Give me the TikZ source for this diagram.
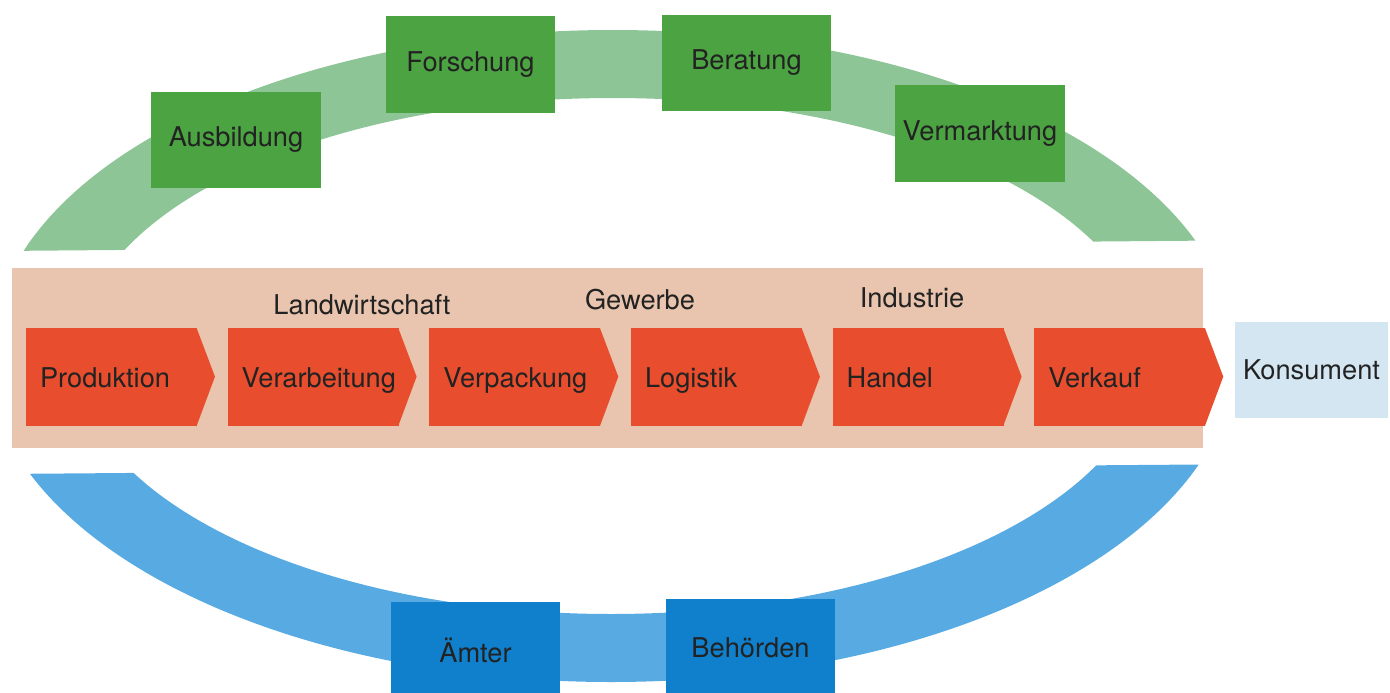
\documentclass[tikz,border=0pt]{standalone}
\usepackage{fontspec}
\setmainfont{TeX Gyre Heros}
\usetikzlibrary{positioning}
\lefthyphenmin=62

\definecolor{ringgreen}{RGB}{141,197,150}
\definecolor{boxgreen}{RGB}{76,163,66}
\definecolor{ringblue}{RGB}{88,170,226}
\definecolor{boxblue}{RGB}{16,128,204}
\definecolor{band}{RGB}{233,196,174}
\definecolor{stageorange}{RGB}{232,78,45}
\definecolor{konsument}{RGB}{212,230,242}
\definecolor{textgray}{RGB}{34,34,34}

\tikzset{
  box/.style={fill=#1, minimum width=3.4cm, minimum height=1.94cm, text=textgray},
  stage/.style={fill=stageorange, minimum width=3.42cm, minimum height=1.96cm,
    inner xsep=0.28cm, text width=2.86cm, align=left, text=textgray,
    text height=13pt, text depth=1.6pt},
}

\begin{document}
\begin{tikzpicture}[x=0.02cm, y=-0.02cm, font=\fontsize{15.5}{18}\selectfont, node distance=0.6cm]
	\useasboundingbox (0,0) rectangle (1390,693);
	
	% Ring oben
	\begin{scope}
		\clip (0,-10) -- (1390,-10) -- (1390,239) -- (0,251) -- cycle;
		\fill[ringgreen, even odd rule] (613,355) ellipse [x radius=622, y radius=325]
		                                (613,355) ellipse [x radius=535, y radius=257];
	\end{scope}
	% Ring unten
	\begin{scope}
		\clip (0,474) -- (1390,463) -- (1390,710) -- (0,710) -- cycle;
		\fill[ringblue, even odd rule] (611,352) ellipse [x radius=625, y radius=330]
		                               (611,352) ellipse [x radius=538, y radius=262];
	\end{scope}
	
	\fill[band] (12,268) rectangle (1203,448);
	
	\node[stage] (prod) at (111.5,377) {Produktion};
	\node[stage] (verarb)[right=of prod] {Verarbeitung};
	\node[stage] (verpack)[right=of verarb] {Verpackung};
	\node[stage] (logist)[right=of verpack] {Logistik};
	\node[stage] (handel)[right=of logist] {Handel};
	\node[stage] (verkauf)[right=of handel] {Verkauf};
	\foreach \n in {prod,verarb,verpack,logist,handel,verkauf}
		\fill[stageorange] ([xshift=-0.5pt]\n.north east) -- ++(18.5,49) -- ([xshift=-0.5pt]\n.south east) -- cycle;
	
	\node[fill=konsument, minimum width=3.06cm, minimum height=1.92cm, inner xsep=0.1cm, text=textgray]
		(kons) at (1311.5,370) {Konsument};
	
	\node[text=textgray] (landw) at (362,305) {Landwirtschaft};
	\node[text=textgray] (gewerbe) at (640,300) {Gewerbe};
	\node[text=textgray] (ind) at (912,298) {Industrie};
	
	\node[box=boxgreen] (ausb) at (236,140) {Ausbildung};
	\node[box=boxgreen] (forsch) at (470.5,64.5) {Forschung};
	\node[box=boxgreen] (berat) at (746.5,63) {Beratung};
	\node[box=boxgreen] (vermark) at (980,133.5) {Vermarktung};
	
	\node[box=boxblue] (aemter) at (475.5,650.5) {Ämter};
	\node[box=boxblue] (behoerden) at (750.5,647.5) {Behörden};
\end{tikzpicture}
\end{document}
